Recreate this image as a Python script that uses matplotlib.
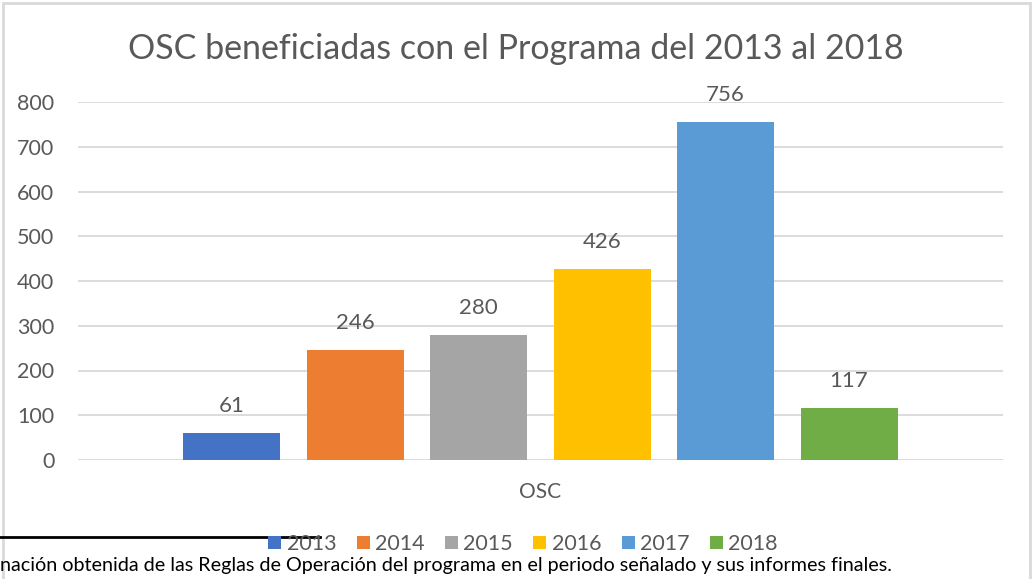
"""OSC beneficiadas con el Programa, 2013-2018."""

import matplotlib.pyplot as plt
from matplotlib.patches import Rectangle
from matplotlib.lines import Line2D

YEARS = ["2013", "2014", "2015", "2016", "2017", "2018"]
VALUES = [61, 246, 280, 426, 756, 117]
CATEGORY = "OSC"
COLORS = ["#4472C4", "#ED7D31", "#A5A5A5", "#FFC000", "#5B9BD5", "#70AD47"]

TITLE = "OSC beneficiadas con el Programa del 2013 al 2018"
FOOTNOTE = ("nación obtenida de las Reglas de Operación del programa en el "
            "periodo señalado y sus informes finales.")

plt.rcParams["font.family"] = ["Lato", "DejaVu Sans"]

W, H = 1034, 579
fig = plt.figure(figsize=(W / 100, H / 100), dpi=100)

# plot area in pixels: x 78..1003, y 102 (800) .. 460 (0)
ax = fig.add_axes([78 / W, 1 - 460 / H, 925 / W, 358 / H])

step = 123.4 / 925
width = 97 / 925
n = len(YEARS)
for i, (yr, val, c) in enumerate(zip(YEARS, VALUES, COLORS)):
    x = (i - (n - 1) / 2) * step
    ax.bar(x, val, width=width, color=c, label=yr, zorder=3)
    ax.annotate(f"{val}", (x, val), xytext=(0, 19.5), textcoords="offset points",
                ha="center", va="center", fontsize=16, color="#595959")

ax.set_xlim(-0.5, 0.5)
ax.set_ylim(0, 800)
ax.set_yticks(range(0, 801, 100))
ax.grid(axis="y", color="#D9D9D9", lw=1.3, zorder=0)
ax.tick_params(axis="y", length=0, pad=17, labelsize=15.5, labelcolor="#595959")
ax.set_xticks([0])
ax.set_xticklabels([CATEGORY])
ax.tick_params(axis="x", length=0, pad=16, labelsize=15, labelcolor="#595959")
for s in ax.spines.values():
    s.set_visible(False)

fig.text(516 / W, 1 - 49 / H, TITLE, ha="center", va="center",
         fontsize=24.5, color="#595959")

leg = fig.legend(loc="center", bbox_to_anchor=(523 / W, 1 - 544 / H),
                 ncol=n, frameon=False, fontsize=15.5, handlelength=0.6,
                 handleheight=0.6, handletextpad=0.25, columnspacing=0.95)
for t in leg.get_texts():
    t.set_color("#595959")

# chart frame (runs off the bottom of the crop)
fig.patches.append(Rectangle((3 / W, -0.05), 1027 / W, 1 - 3 / H + 0.05,
                             transform=fig.transFigure, fill=False,
                             ec="#D9D9D9", lw=2))

# footnote rule and text from the surrounding document
fig.lines.append(Line2D([0, 320 / W], [1 - 537 / H] * 2,
                        transform=fig.transFigure, color="black", lw=2))
fig.text(0, 1 - 566 / H, FOOTNOTE, ha="left", va="center",
         fontsize=14.2, color="black")

fig.savefig("out.png", dpi=100)
